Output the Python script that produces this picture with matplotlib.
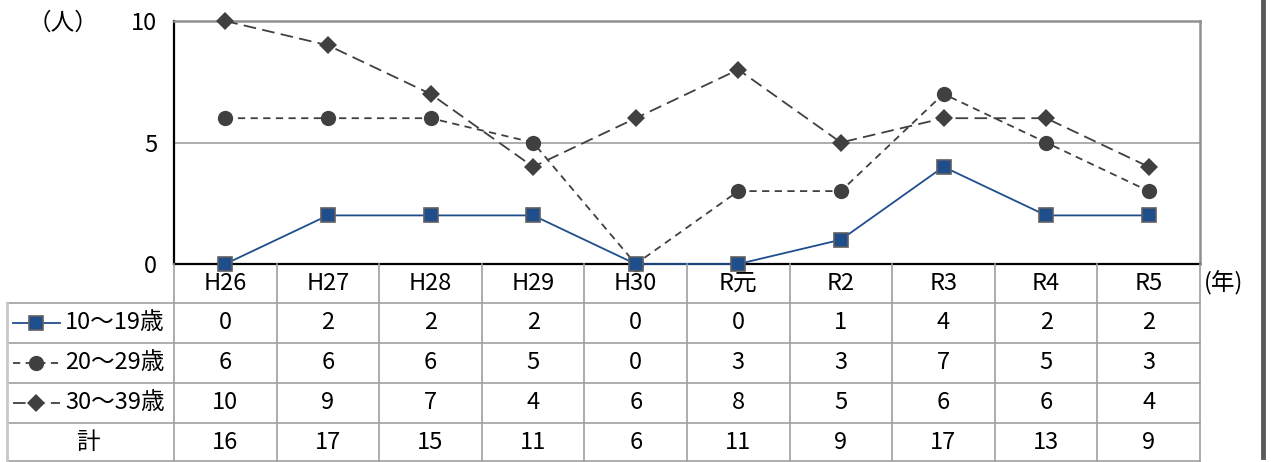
import matplotlib
matplotlib.use("Agg")
import matplotlib.pyplot as plt
from matplotlib.lines import Line2D

plt.rcParams['font.family'] = ['Noto Sans CJK JP', 'DejaVu Sans']

years = ["H26", "H27", "H28", "H29", "H30", "R元", "R2", "R3", "R4", "R5"]
series_names = ["10～19歳", "20～29歳", "30～39歳"]
age_10_19 = [0, 2, 2, 2, 0, 0, 1, 4, 2, 2]
age_20_29 = [6, 6, 6, 5, 0, 3, 3, 7, 5, 3]
age_30_39 = [10, 9, 7, 4, 6, 8, 5, 6, 6, 4]
totals = [16, 17, 15, 11, 6, 11, 9, 17, 13, 9]
yticks = [0, 5, 10]

W, H = 1271, 462
fig = plt.figure(figsize=(W / 100, H / 100), dpi=100)

def rect(l, t, r, b):
    return [l / W, 1 - b / H, (r - l) / W, (b - t) / H]

PL, PR, PT, PB = 174, 1200, 21, 264
TL, TB = 7, 462
ROWS = [264, 303, 343, 383, 423, 462]
FS = 17

styles = [
    dict(color="#1F4E8C", lw=1.3, ls="-", marker="s", ms=10.5, mfc="#1F4E8C", mec="#606060", mew=1.2),
    dict(color="#404040", lw=1.3, ls=(0, (4, 3)), marker="o", ms=11, mfc="#404040", mec="#404040", mew=0),
    dict(color="#404040", lw=1.3, ls=(0, (7, 3.5)), marker="D", ms=9, mfc="#404040", mec="#404040", mew=0),
]
data = [age_10_19, age_20_29, age_30_39]

ax = fig.add_axes(rect(PL, PT, PR, PB))
x = list(range(len(years)))
for i in [2, 1, 0]:
    ax.plot(x, data[i], clip_on=False, zorder=3 + (2 - i), **styles[i])
ax.set_xlim(-0.5, len(years) - 0.5)
ax.set_ylim(0, 10)
ax.set_yticks(yticks)
ax.set_yticklabels([str(v) for v in yticks], fontsize=FS)
ax.tick_params(axis='y', length=0, pad=12)
ax.set_xticks([])
ax.axhline(5, color="#A0A0A0", lw=1.2, zorder=1)
ax.spines['left'].set_color("black")
ax.spines['left'].set_linewidth(1.6)
ax.spines['bottom'].set_color("black")
ax.spines['bottom'].set_linewidth(1.6)
for s in ['top', 'right']:
    ax.spines[s].set_color("#909090")
    ax.spines[s].set_linewidth(1.8)
fig.text(28 / W, 1 - 23 / H, "（人）", fontsize=FS, ha="left", va="center")

# Table axes
colw = (PR - PL) / len(years)
xleft = -0.5 - (PL - TL) / colw
tax = fig.add_axes(rect(TL, PB, PR, TB))
tax.set_xlim(xleft, len(years) - 0.5)
tax.set_ylim(TB, PB)
tax.axis('off')
lc = "#A0A0A0"
for yv in ROWS[1:-1]:
    tax.plot([xleft, len(years) - 0.5], [yv, yv], color=lc, lw=1.2, clip_on=False)
tax.plot([xleft, len(years) - 0.5], [TB - 0.5, TB - 0.5], color=lc, lw=1.2, clip_on=False)
tax.plot([xleft, xleft], [ROWS[1], TB], color="#C8C8C8", lw=2, clip_on=False)
for k in range(len(years) + 1):
    xv = k - 0.5
    tax.plot([xv, xv], [PB, TB], color=lc, lw=1.2, clip_on=False)

def cy(r):
    return (ROWS[r] + ROWS[r + 1]) / 2

for j, yr in enumerate(years):
    tax.text(j, cy(0), yr, ha="center", va="center", fontsize=FS)
rows_vals = [age_10_19, age_20_29, age_30_39, totals]
for r, vals in enumerate(rows_vals):
    for j, v in enumerate(vals):
        tax.text(j, cy(r + 1), str(v), ha="center", va="center", fontsize=FS)

def px2x(p):
    return xleft + (p - TL) / colw

for r, name in enumerate(series_names):
    yv = cy(r + 1)
    st = dict(styles[r])
    st_line = {k: v for k, v in st.items() if k in ("color", "lw", "ls")}
    tax.plot([px2x(13), px2x(60)], [yv, yv], clip_on=False, **st_line)
    tax.plot([px2x(36.5)], [yv], clip_on=False, ls="none",
             marker=st["marker"], ms=st["ms"], mfc=st["mfc"], mec=st["mec"], mew=st["mew"])
    tax.text(px2x(65), yv, name, ha="left", va="center", fontsize=FS)
tax.text(px2x(88), cy(4), "計", ha="center", va="center", fontsize=FS)

fig.text(1204 / W, 1 - cy(0) / H, "(年)", fontsize=FS, ha="left", va="center")

fig.add_artist(Line2D([1262.5 / W, 1262.5 / W], [0.01, 1], color="#595959", lw=3.5))

fig.savefig("out.png", dpi=100)
